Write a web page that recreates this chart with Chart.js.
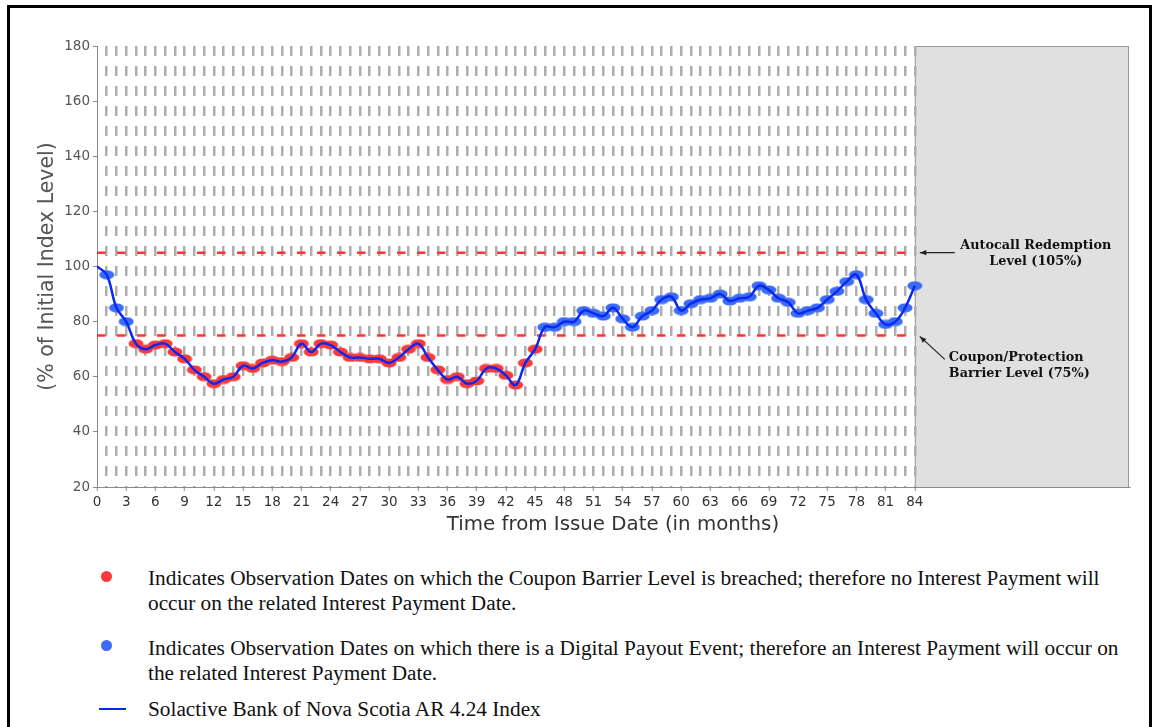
<!DOCTYPE html>
<html>
<head>
<meta charset="utf-8">
<script src="https://cdn.jsdelivr.net/npm/chart.js@4/dist/chart.umd.min.js"></script>
<style>
  body { margin: 0; background: #fff; width: 1157px; height: 727px; overflow: hidden; position: relative; }
  .frame { position: absolute; left: 7px; top: 5px; width: 1139px; height: 760px; border: 3px solid #000; }
  #chart { position: absolute; left: 0; top: 0; }
  .legend { position: absolute; left: 0; top: 0; font-family: "Liberation Serif", "Times New Roman", serif; font-size: 21.3px; color: #111; }
  .row { position: absolute; left: 148px; line-height: 25px; white-space: nowrap; }
  .dot { position: absolute; width: 11px; height: 11px; border-radius: 50%; }
  .swatch { position: absolute; height: 2px; }
</style>
</head>
<body>
<div class="frame"></div>
<canvas id="chart" width="1157" height="545"></canvas>
<div class="legend">
  <div class="dot" style="left:101px; top:571px; background:#fa3a3a"></div>
  <div class="row" style="top:566px">Indicates Observation Dates on which the Coupon Barrier Level is breached; therefore no Interest Payment will<br>occur on the related Interest Payment Date.</div>
  <div class="dot" style="left:101px; top:640px; background:#3c6cf7"></div>
  <div class="row" style="top:636px">Indicates Observation Dates on which there is a Digital Payout Event; therefore an Interest Payment will occur on<br>the related Interest Payment Date.</div>
  <div class="swatch" style="left:99px; top:708px; width:27px; background:#0a28f0"></div>
  <div class="row" style="top:697px">Solactive Bank of Nova Scotia AR 4.24 Index</div>
</div>
<script>
// months from issue date, 0..84
const months = [
  0, 1, 2, 3, 4, 5, 6, 7, 8, 9, 10, 11, 12, 13, 14, 15, 16, 17, 18, 19, 20,
  21, 22, 23, 24, 25, 26, 27, 28, 29, 30, 31, 32, 33, 34, 35, 36, 37, 38, 39, 40,
  41, 42, 43, 44, 45, 46, 47, 48, 49, 50, 51, 52, 53, 54, 55, 56, 57, 58, 59, 60,
  61, 62, 63, 64, 65, 66, 67, 68, 69, 70, 71, 72, 73, 74, 75, 76, 77, 78, 79, 80,
  81, 82, 83, 84
];
// index level, % of initial
const indexLevel = [
  100, 97, 85, 80, 72, 70, 71.5, 72, 69, 66.5, 62.5, 60, 57.5, 59, 60, 64, 63, 65, 66, 65.5, 67,
  72, 69, 72, 71.5, 69, 67, 67, 66.5, 66.5, 65, 67, 70, 72, 67, 62.5, 59, 60, 57.5, 58.5, 63,
  63, 60.5, 57, 65, 70, 78, 78, 80, 80, 84, 83, 82, 85, 81, 78, 82, 84, 88, 89, 84,
  86.5, 88, 88.5, 90, 87.5, 88.5, 89, 93, 91.5, 88.5, 87, 83, 84, 85, 88, 91, 94.5, 97, 88, 83,
  79, 80, 85, 93
];
const autocallLevel = 105;
const couponBarrier = 75;
const lastMonth = 84;
const axisEnd = 106;
const xLabelStep = 3;
const yMin = 20, yMax = 180, yStep = 20;

const RED = '#fa3a3a', BLUE = '#3c6cf7', LINE = '#0a28f0';

function ellipseMarker(color) {
  const c = document.createElement('canvas');
  c.width = 16; c.height = 10;
  const g = c.getContext('2d');
  g.fillStyle = color;
  g.beginPath();
  g.ellipse(8, 5, 7.5, 4.5, 0, 0, Math.PI * 2);
  g.fill();
  return c;
}
const redMark = ellipseMarker(RED);
const blueMark = ellipseMarker(BLUE);

const linePts = months.map((m, i) => ({ x: m, y: indexLevel[i] }));
const obsPts = linePts.slice(1); // no observation on issue date

function arrow(ctx, x1, y1, x2, y2) {
  const a = Math.atan2(y2 - y1, x2 - x1);
  ctx.beginPath();
  ctx.moveTo(x1, y1);
  ctx.lineTo(x2, y2);
  ctx.stroke();
  ctx.beginPath();
  ctx.moveTo(x2, y2);
  ctx.lineTo(x2 - 7 * Math.cos(a - 0.38), y2 - 7 * Math.sin(a - 0.38));
  ctx.lineTo(x2 - 7 * Math.cos(a + 0.38), y2 - 7 * Math.sin(a + 0.38));
  ctx.closePath();
  ctx.fill();
}

// grey block after the final observation
const shadePlugin = {
  id: 'shade',
  beforeDraw(chart) {
    const { ctx, chartArea, scales: { x } } = chart;
    const x0 = x.getPixelForValue(lastMonth);
    const x1 = x.getPixelForValue(axisEnd);
    ctx.save();
    ctx.fillStyle = '#e0e0e0';
    ctx.fillRect(x0, chartArea.top, x1 - x0, chartArea.bottom - chartArea.top);
    ctx.strokeStyle = '#999';
    ctx.lineWidth = 1;
    ctx.strokeRect(x0 + 0.5, chartArea.top + 0.5, x1 - x0 - 1, chartArea.bottom - chartArea.top);
    ctx.restore();
  }
};

const notesPlugin = {
  id: 'notes',
  afterDraw(chart) {
    const { ctx, scales: { x, y } } = chart;
    const tipX = x.getPixelForValue(lastMonth) + 5;
    const yA = y.getPixelForValue(autocallLevel);
    const yC = y.getPixelForValue(couponBarrier);
    ctx.save();
    ctx.strokeStyle = '#222';
    ctx.fillStyle = '#222';
    ctx.lineWidth = 1.2;
    arrow(ctx, tipX + 35, yA, tipX, yA);
    arrow(ctx, tipX + 25, yC + 24, tipX, yC + 1);
    ctx.fillStyle = '#111';
    ctx.font = 'bold 12.8px "DejaVu Serif"';
    ctx.textBaseline = 'middle';
    ctx.textAlign = 'center';
    ctx.fillText('Autocall Redemption', tipX + 116, yA - 7);
    ctx.fillText('Level (105%)', tipX + 116, yA + 9);
    ctx.textAlign = 'left';
    ctx.fillText('Coupon/Protection', tipX + 29, yC + 22);
    ctx.fillText('Barrier Level (75%)', tipX + 29, yC + 38);
    ctx.restore();
  }
};

new Chart(document.getElementById('chart'), {
  type: 'line',
  data: {
    datasets: [
      {
        label: 'Solactive Bank of Nova Scotia AR 4.24 Index',
        data: linePts,
        borderColor: LINE,
        borderWidth: 2.5,
        tension: 0.4,
        pointRadius: 0,
        order: 0
      },
      {
        label: 'Observation Dates',
        data: obsPts,
        showLine: false,
        pointRadius: 6,
        pointStyle: c => (c.raw && c.raw.y < couponBarrier ? redMark : blueMark),
        order: 1
      },
      {
        label: 'Autocall Redemption Level',
        data: [{ x: 0, y: autocallLevel }, { x: lastMonth, y: autocallLevel }],
        borderColor: '#ff3333',
        borderWidth: 2.5,
        borderDash: [8.5, 11.5],
        pointRadius: 0,
        order: 3
      },
      {
        label: 'Coupon/Protection Barrier Level',
        data: [{ x: 0, y: couponBarrier }, { x: lastMonth, y: couponBarrier }],
        borderColor: '#ff3333',
        borderWidth: 2.5,
        borderDash: [8.5, 11.5],
        pointRadius: 0,
        order: 3
      }
    ]
  },
  options: {
    responsive: false,
    animation: false,
    devicePixelRatio: 1,
    layout: { padding: { left: 0, top: 46, right: 28, bottom: 0 } },
    plugins: { legend: { display: false }, tooltip: { enabled: false } },
    scales: {
      x: {
        type: 'linear',
        min: 0,
        max: axisEnd,
        afterBuildTicks: s => { s.ticks = months.map(v => ({ value: v })); },
        afterFit: s => { s.height = 58; },
        ticks: {
          autoSkip: false,
          maxRotation: 0,
          padding: 3,
          color: '#333',
          font: { family: 'DejaVu Sans', size: 13.5 },
          callback: v => (v % xLabelStep === 0 && v <= lastMonth ? v : '')
        },
        grid: {
          color: c => (c.tick && c.tick.value >= 1 && c.tick.value <= lastMonth ? '#aeaeae' : 'rgba(0,0,0,0)'),
          lineWidth: 2.5,
          tickLength: 4,
          tickWidth: 1,
          tickColor: c => (c.tick && c.tick.value % xLabelStep === 0 ? '#888' : 'rgba(0,0,0,0)')
        },
        border: { color: '#888', width: 1, dash: [10, 10] },
        title: {
          display: true,
          text: 'Time from Issue Date (in months)',
          color: '#333',
          font: { family: 'DejaVu Sans', size: 19.8 },
          padding: { top: 4, bottom: 8 }
        }
      },
      y: {
        min: yMin,
        max: yMax,
        afterFit: s => { s.width = 97; },
        ticks: {
          stepSize: yStep,
          padding: 3,
          color: '#555',
          font: { family: 'DejaVu Sans', size: 13.5 }
        },
        grid: { drawOnChartArea: false, tickLength: 4, tickColor: '#888' },
        border: { color: '#888', width: 1 },
        title: {
          display: true,
          text: '(% of Initial Index Level)',
          color: '#555',
          font: { family: 'DejaVu Sans', size: 20.5 },
          padding: { top: 35, bottom: 0 }
        }
      }
    }
  },
  plugins: [shadePlugin, notesPlugin]
});
</script>
</body>
</html>
